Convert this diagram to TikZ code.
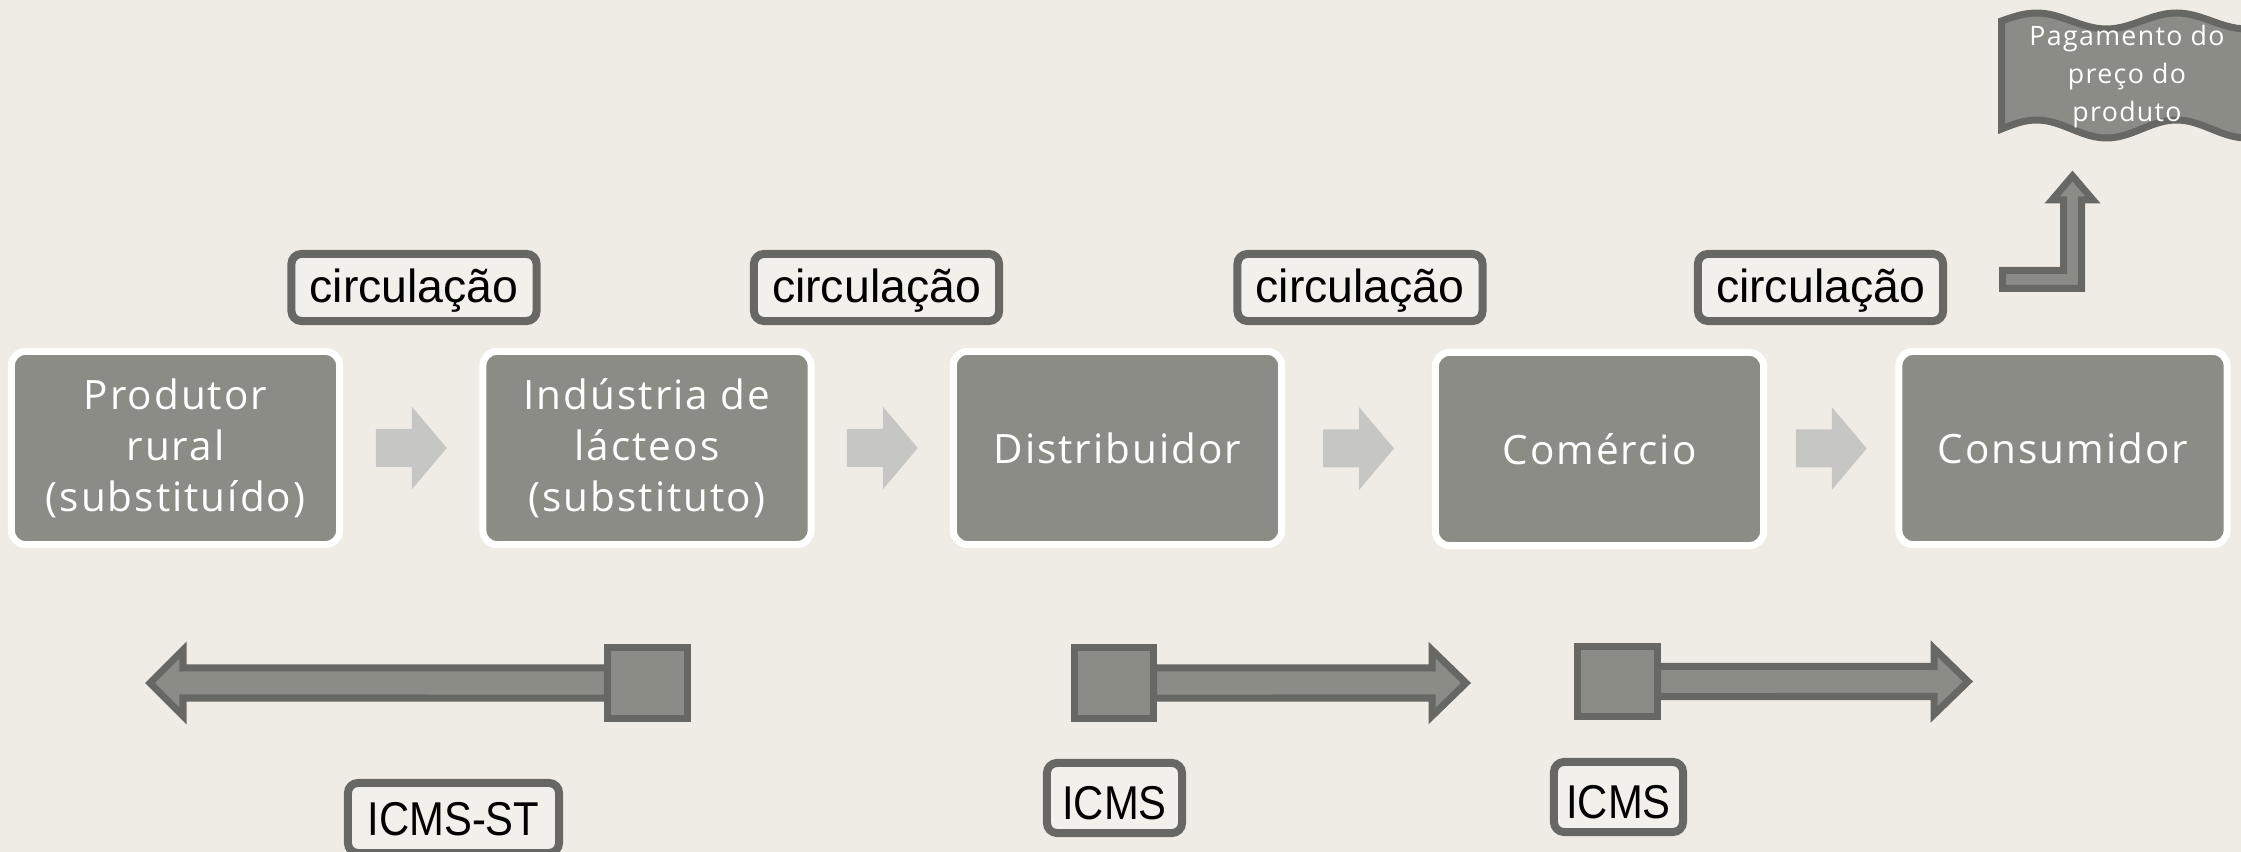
\documentclass[tikz,border=0pt]{standalone}
\usepackage{fontspec}
\setmainfont[LetterSpace=5]{Open Sans}
\newfontfamily\tagfont{Liberation Sans}
\newfontfamily\taxfont[FakeStretch=0.88]{Liberation Sans}
\usetikzlibrary{calc}

\definecolor{paper}{HTML}{EFECE5}
\definecolor{stagegray}{HTML}{8B8C86}
\definecolor{rim}{HTML}{676863}
\definecolor{flowgray}{HTML}{C6C6C4}

\tikzset{
  stage/.style={draw=white, line width=0.07cm, fill=stagegray, rounded corners=0.14cm,
    minimum width=3.28cm, minimum height=1.93cm, inner sep=0pt, align=center,
    text=white, font=\fontsize{11.5}{14.5}\selectfont},
  tag/.style={draw=rim, line width=0.08cm, fill=paper!80!white, rounded corners=0.1cm,
    minimum width=2.45cm, minimum height=0.67cm, inner sep=0pt,
    text height=11.6pt, text depth=2.8pt,
    font=\tagfont\fontsize{13.2}{15}\selectfont},
  taxtag/.style={tag, minimum height=0.70cm, font=\taxfont\fontsize{13.5}{15}\selectfont},
  taxsquare/.style={draw=rim, line width=0.07cm, fill=stagegray, outer sep=0pt,
    minimum width=0.79cm, minimum height=0.71cm, inner sep=0pt},
  blockarrow/.style={draw=rim, line width=0.07cm, fill=stagegray}
}

\begin{document}
\begin{tikzpicture}[x=0.01cm,y=-0.01cm]
\useasboundingbox (0,0) rectangle (2241,852);
\fill[paper] (0,0) rectangle (2241,852);
\clip (0,0) rectangle (2241,852);

% chain of stages
\node[stage] (prod) at (175.5,448) {Produtor\\rural\\(substituído)};
\node[stage] (ind) at (647,448) {Indústria de\\lácteos\\(substituto)};
\node[stage] (dist) at (1117.5,448) {Distribuidor};
\node[stage] (com) at (1599.5,449) {Comércio};
\node[stage] (cons) at (2063,448) {Consumidor};

\foreach \a/\b in {prod/ind, ind/dist, dist/com, com/cons}
  \fill[flowgray] ($(\a.east)!.5!(\b.west)+(-35.5,-19)$) -- ++(36,0) -- ++(0,-22.5)
    -- ++(35,41.5) -- ++(-35,41.5) -- ++(0,-22.5) -- ++(-36,0) -- cycle;

\node[tag] (circA) at (414,287.5) {circulação};
\node[tag] (circB) at (876.5,287.5) {circulação};
\node[tag] (circC) at (1360,287.5) {circulação};
\node[tag] (circD) at (1820.5,287.5) {circulação};

% payment flag
\draw[blockarrow] (2002.5,270.5) -- (2063.5,270.5) -- (2063.5,200) -- (2052,200)
  -- (2072.5,176) -- (2093,200) -- (2081.5,200) -- (2081.5,288.5) -- (2002.5,288.5) -- cycle;
\draw[blockarrow] plot[domain=0:268.5, samples=50] ({2001.5+\x},{21-8*sin(\x/140*360)})
  -- plot[domain=268.5:0, samples=50] ({2001.5+\x},{129-9*sin(\x/140*360)}) -- cycle;
\node[text=white, align=center, font=\fontsize{7.6}{10.8}\selectfont] (pay) at (2127,77)
  {Pagamento do\\preço do\\produto};

% tax arrows
\node[taxsquare, minimum width=0.80cm] (sqA) at (647.5,683) {};
\node[taxsquare] (sqB) at (1114,683) {};
\node[taxsquare, minimum width=0.80cm, minimum height=0.70cm] (sqC) at (1617.5,681.5) {};
\coordinate (tipA) at (150,683);
\coordinate (tipB) at (1466,683);
\coordinate (tipC) at (1968,681.5);

\draw[blockarrow] (tipA) -- ++(33,-33) -- ++(0,18) -- ([yshift=0.15cm]sqA.west)
  -- ([yshift=-0.15cm]sqA.west) -- ([shift={(33,15)}]tipA) -- ++(0,18) -- cycle;
\draw[blockarrow] ([yshift=0.15cm]sqB.east) -- ([shift={(-34,-15)}]tipB) -- ++(0,-18)
  -- (tipB) -- ++(-34,33) -- ++(0,-18) -- ([yshift=-0.15cm]sqB.east) -- cycle;
\draw[blockarrow] ([yshift=0.15cm]sqC.east) -- ([shift={(-34,-15)}]tipC) -- ++(0,-18)
  -- (tipC) -- ++(-34,33) -- ++(0,-18) -- ([yshift=-0.15cm]sqC.east) -- cycle;

\node[taxtag, minimum width=2.11cm, text height=9.7pt, text depth=0pt] (icmsST) at (453.5,818) {ICMS-ST};
\node[taxtag, minimum width=1.35cm, text height=12pt, text depth=0pt] (icmsB) at (1114.5,798) {ICMS};
\node[taxtag, minimum width=1.29cm, text height=12pt, text depth=0pt] (icmsC) at (1618.5,797) {ICMS};
\end{tikzpicture}
\end{document}
